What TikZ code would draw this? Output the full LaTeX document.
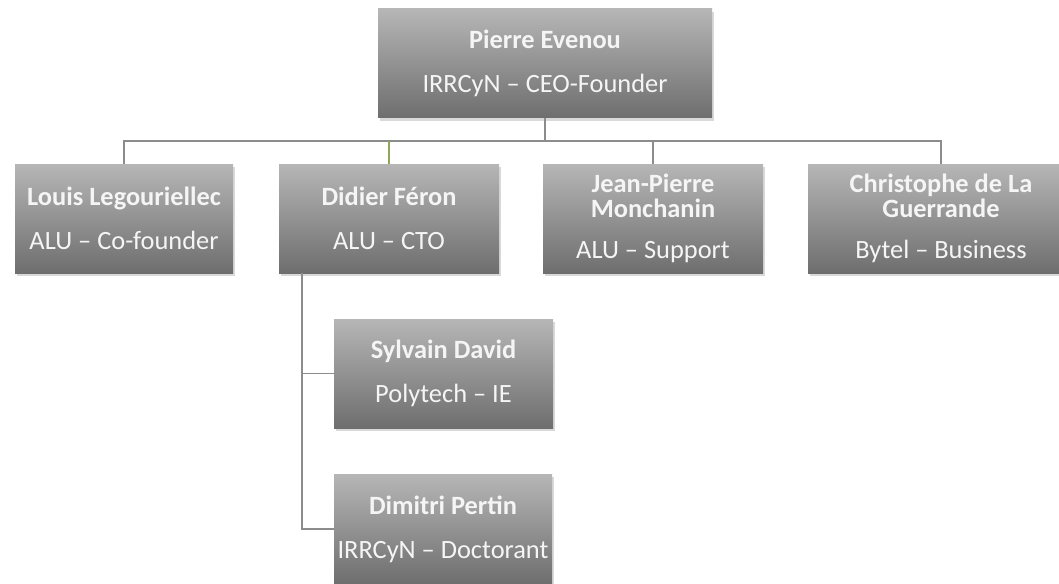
\documentclass[tikz,border=0pt]{standalone}
\usepackage{fontspec}
\setmainfont{Carlito}
\usetikzlibrary{shadows}

\definecolor{boxtop}{RGB}{182,182,182}
\definecolor{boxbottom}{RGB}{110,110,110}
\definecolor{linkgray}{RGB}{140,140,140}
\definecolor{linkgreen}{RGB}{140,168,88}

\tikzset{
  member/.style={rectangle, top color=boxtop, bottom color=boxbottom,
    text=white!96!black, align=center, inner sep=0pt,
    font=\fontsize{26.4}{25}\selectfont,
    drop shadow={opacity=0.3, shadow xshift=2pt, shadow yshift=-3pt}},
  link/.style={draw=linkgray, line width=1.5pt},
  greenlink/.style={draw=linkgreen, line width=1.5pt}
}

\begin{document}
\begin{tikzpicture}[x=1pt,y=-1pt]

    % Page frame (image size)
    \useasboundingbox (0,0) rectangle (1059,583);

    % Head of the team
    \node[member, minimum width=334pt, minimum height=109pt] (ceo) at (545,63.5)
        {\textbf{Pierre Evenou}\\[19pt]IRRCyN – CEO-Founder};

    % First level
    \node[member, minimum width=218pt, minimum height=109pt] (louis) at (124,218.5)
        {\textbf{Louis Legouriellec}\\[19pt]ALU – Co-founder};
    \node[member, minimum width=220pt, minimum height=109pt] (didier) at (389,218.5)
        {\textbf{Didier Féron}\\[19pt]ALU – CTO};
    \node[member, minimum width=220pt, minimum height=109pt] (jp) at (653,218.5)
        {\textbf{Jean-Pierre}\\\textbf{Monchanin}\\[16pt]ALU – Support};
    \node[member, minimum width=266pt, minimum height=109pt] (christophe) at (941,218.5)
        {\textbf{Christophe de La}\\\textbf{Guerrande}\\[16pt]Bytel – Business};

    % Second level, under the CTO
    \node[member, minimum width=219pt, minimum height=109pt] (sylvain) at (443.5,373.5)
        {\textbf{Sylvain David}\\[19pt]Polytech – IE};
    \node[member, minimum width=218pt, minimum height=110pt] (dimitri) at (443,529)
        {\textbf{Dimitri Pertin}\\[19pt]IRRCyN – Doctorant};

    % Horizontal bus and the trunk under the CTO
    \coordinate (bus) at (0,141);
    \coordinate (trunk) at ([xshift=23pt]didier.south west);

    % Connectors of the first level
    \draw[link] (ceo.south) -- (ceo.south |- bus);
    \draw[link] (louis.north) -- (louis.north |- bus) -- (christophe.north |- bus) -- (christophe.north);
    \draw[link] (jp.north) -- (jp.north |- bus);
    \draw[greenlink] (didier.north) -- (didier.north |- bus);

    % Connectors of the second level
    \draw[link] (trunk) |- (dimitri.west);
    \draw[link] (trunk |- sylvain.west) -- (sylvain.west);

\end{tikzpicture}
\end{document}
